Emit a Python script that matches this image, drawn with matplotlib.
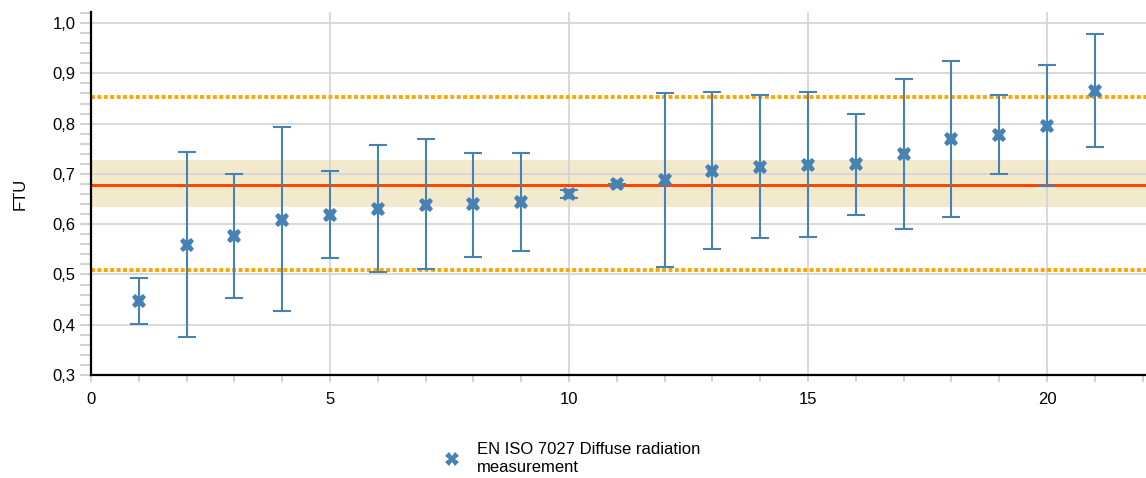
import matplotlib
matplotlib.use("Agg")
import matplotlib.pyplot as plt
from matplotlib.ticker import FixedLocator, MultipleLocator
from matplotlib.lines import Line2D

plt.rcParams['font.family'] = ['Liberation Sans', 'DejaVu Sans']

# ---- data ----
lab = list(range(1, 22))
value = [0.448, 0.558, 0.577, 0.608, 0.618, 0.631, 0.639, 0.640, 0.644, 0.660,
         0.680, 0.688, 0.706, 0.714, 0.718, 0.719, 0.740, 0.769, 0.778, 0.795, 0.865]
upper = [0.492, 0.744, 0.700, 0.794, 0.706, 0.757, 0.769, 0.742, 0.742, 0.667,
         0.680, 0.860, 0.863, 0.857, 0.863, 0.820, 0.888, 0.924, 0.857, 0.916, 0.979]
lower = [0.402, 0.375, 0.454, 0.427, 0.533, 0.505, 0.511, 0.535, 0.547, 0.653,
         0.680, 0.514, 0.551, 0.572, 0.575, 0.618, 0.590, 0.615, 0.700, 0.675, 0.754]
assigned = 0.678
band_low, band_high = 0.634, 0.728
limit_low, limit_high = 0.508, 0.852
y_ticks = [0.3, 0.4, 0.5, 0.6, 0.7, 0.8, 0.9, 1.0]
y_tick_labels = ["0,3", "0,4", "0,5", "0,6", "0,7", "0,8", "0,9", "1,0"]
x_ticks = [0, 5, 10, 15, 20]
x_tick_labels = ["0", "5", "10", "15", "20"]
y_label = "FTU"
series_name = "EN ISO 7027 Diffuse radiation\nmeasurement"

blue = "#4682B4"
grid_c = "#D3D3D3"
fs = 12

fig = plt.figure(figsize=(11.46, 4.78), dpi=100)
ax = fig.add_axes([91/1146, 1-375/478, 1-91/1146, (375-12)/478])

ax.set_xlim(0, 22.07)
ax.set_ylim(0.3, 1.022)

ax.axhspan(band_low, band_high, color="#F3EACD", zorder=0, lw=0)

# grid
for yt in y_ticks[1:]:
    ax.axhline(yt, color=grid_c, lw=1.2, zorder=1)
for xt in x_ticks[1:]:
    ax.axvline(xt, color=grid_c, lw=1.2, zorder=1)

ax.axhline(assigned, color="#FF4500", lw=2.2, zorder=2)
for lv in (limit_low, limit_high):
    ax.axhline(lv, color="#FFA500", lw=2.8, linestyle=(0, (1, 0.65)),
               dash_capstyle="butt", zorder=2)

yerr = [[v - lo for v, lo in zip(value, lower)], [hi - v for v, hi in zip(value, upper)]]
ax.errorbar(lab, value, yerr=yerr, fmt="none", ecolor=blue, elinewidth=1.5,
            capsize=6.5, capthick=1.5, zorder=3)
ax.plot(lab, value, linestyle="none", marker="X", markersize=10.5, color=blue,
        markeredgewidth=0, zorder=4)

for s in ("top", "right"):
    ax.spines[s].set_visible(False)
for s in ("left", "bottom"):
    ax.spines[s].set_color("black")
    ax.spines[s].set_linewidth(1.6)

ax.yaxis.set_major_locator(FixedLocator(y_ticks))
ax.set_yticklabels(y_tick_labels)
ax.yaxis.set_minor_locator(MultipleLocator(0.02))
ax.xaxis.set_major_locator(FixedLocator(x_ticks))
ax.set_xticklabels(x_tick_labels)
ax.xaxis.set_minor_locator(MultipleLocator(1))

ax.tick_params(axis="y", which="both", length=8, width=1.5, color=grid_c,
               labelsize=fs, pad=3)
ax.tick_params(axis="x", which="both", length=5, width=1.5, color=grid_c,
               labelsize=fs, pad=7)

ax.set_ylabel(y_label, fontsize=fs, labelpad=18)

handle = Line2D([], [], linestyle="none", marker="X", markersize=9.5, color=blue,
                markeredgewidth=0)
fig.legend([handle], [series_name], loc="center", bbox_to_anchor=(0.498, 0.041),
           frameon=False, fontsize=fs, handletextpad=0.9, handlelength=1.2,
           labelspacing=0.3)

fig.savefig("out.png", dpi=100)
